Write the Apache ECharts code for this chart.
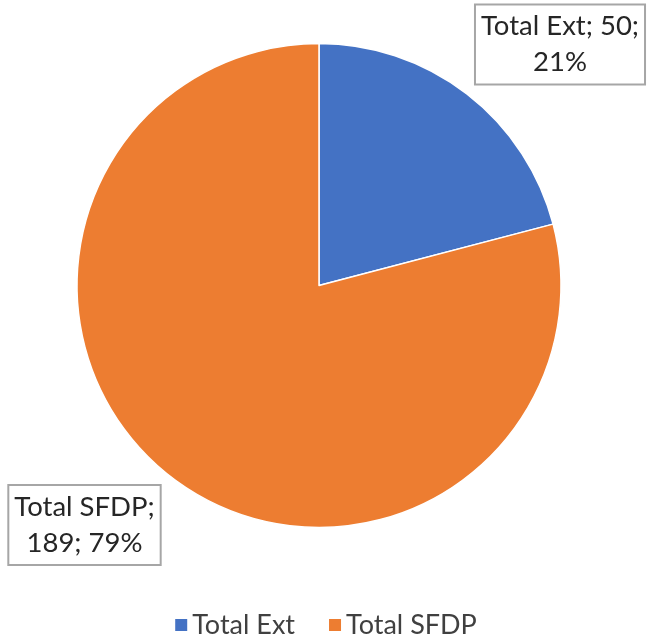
<!DOCTYPE html>
<html><head><meta charset="utf-8">
<script src="https://cdn.jsdelivr.net/npm/echarts@6/dist/echarts.min.js"></script>
<style>html,body{margin:0;padding:0;background:#fff}#c{width:650px;height:636px}</style>
</head><body><div id="c"></div>
<script>
const categories = ['Total Ext', 'Total SFDP'];
const values = [50, 189];
const colors = ['#4472C4', '#ED7D31'];

const chart = echarts.init(document.getElementById('c'), null, {renderer: 'canvas'});
const total = values.reduce((a, b) => a + b, 0);
const labelPos = [
  {x: 560, y: 44.5},
  {x: 84.5, y: 525}
];
chart.setOption({
  animation: false,
  color: colors,
  legend: {
    top: 611,
    left: 'center',
    padding: 0,
    itemWidth: 14,
    itemHeight: 14,
    itemGap: 32,
    icon: 'rect',
    textStyle: {fontFamily: 'Lato', fontSize: 27, lineHeight: 28, color: '#404040', padding: [0, 0, 0, -1]},
    data: categories
  },
  series: [{
    type: 'pie',
    center: [319, 285.5],
    radius: 242,
    startAngle: 90,
    clockwise: true,
    percentPrecision: 0,
    itemStyle: {borderColor: '#fff', borderWidth: 1.5},
    emphasis: {disabled: true},
    label: {
      show: true,
      position: 'inside',
      rotate: 0,
      fontFamily: 'Lato',
      fontSize: 27.5,
      lineHeight: 36,
      color: '#262626',
      backgroundColor: '#fff',
      borderColor: '#a6a6a6',
      borderWidth: 2,
      padding: [4, 5, 2, 5],
      align: 'center',
      formatter: p => {
        const pct = Math.round(p.value / total * 100);
        return p.dataIndex === 0
          ? `${p.name}; ${p.value};\n${pct}%`
          : `${p.name};\n${p.value}; ${pct}%`;
      }
    },
    labelLine: {show: false},
    labelLayout: params => ({
      x: labelPos[params.dataIndex].x,
      y: labelPos[params.dataIndex].y,
      align: 'center',
      verticalAlign: 'middle'
    }),
    data: categories.map((n, i) => ({name: n, value: values[i]}))
  }]
});
</script></body></html>
